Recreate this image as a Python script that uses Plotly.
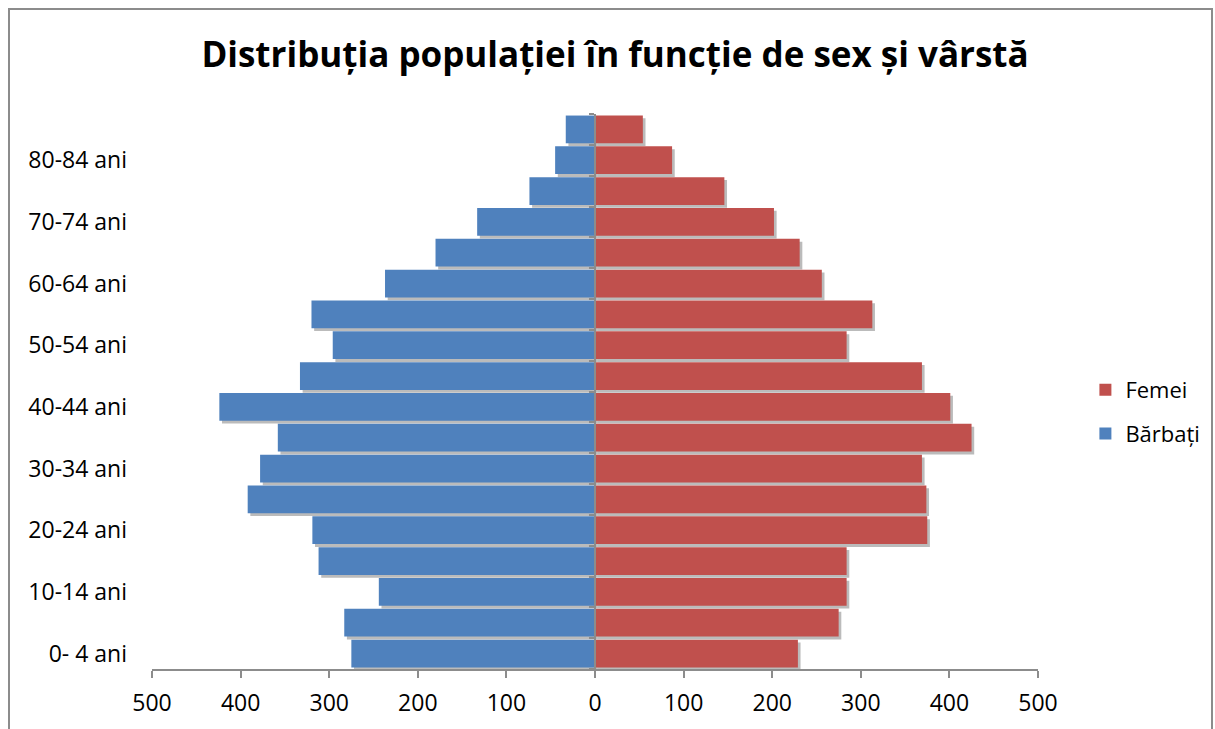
import plotly.graph_objects as go

# Age groups, youngest first (bottom of the pyramid)
age_groups = ["0- 4 ani", "5- 9 ani", "10-14 ani", "15-19 ani", "20-24 ani", "25-29 ani",
              "30-34 ani", "35-39 ani", "40-44 ani", "45-49 ani", "50-54 ani", "55-59 ani",
              "60-64 ani", "65-69 ani", "70-74 ani", "75-79 ani", "80-84 ani", "85+ ani"]
barbati = [275, 283, 244, 312, 319, 392, 378, 358, 424, 333, 296, 320, 237, 180, 133, 74, 45, 33]
femei = [229, 275, 284, 284, 375, 374, 369, 425, 401, 369, 284, 313, 256, 231, 202, 146, 87, 54]
axis_ticks = [-500, -400, -300, -200, -100, 0, 100, 200, 300, 400, 500]
shown_labels = age_groups[::2]

BLUE = "#4F81BD"
RED = "#C0504D"
GREY = "#8C8C8C"
FONT = "Open Sans"

BAR_W = 0.9
SHADOW_DX = 3.0      # shadow shift along the value axis (axis units)
SHADOW_DY = 0.09     # shadow shift along the category axis (category units)

fig = go.Figure()

# drop shadows under the bars
for vals in ([-v for v in barbati], femei):
    fig.add_trace(go.Bar(
        y=age_groups, x=vals, orientation="h", base=SHADOW_DX,
        width=BAR_W, offset=-BAR_W / 2 - SHADOW_DY,
        marker=dict(color="rgba(60,60,60,0.35)", line=dict(width=0)),
        showlegend=False, hoverinfo="skip"))

fig.add_trace(go.Bar(
    y=age_groups, x=femei, orientation="h", name="Femei",
    width=BAR_W, marker=dict(color=RED, line=dict(width=0)),
    legendgroup="f", hovertemplate="%{y}: %{x}<extra>Femei</extra>"))
fig.add_trace(go.Bar(
    y=age_groups, x=[-v for v in barbati], orientation="h", name="Bărbați",
    width=BAR_W, marker=dict(color=BLUE, line=dict(width=0)),
    legendgroup="b", customdata=barbati,
    hovertemplate="%{y}: %{customdata}<extra>Bărbați</extra>"))

# invisible carrier for the central category axis (line + boundary ticks)
fig.add_trace(go.Bar(
    y=age_groups, x=[0] * len(age_groups), orientation="h", yaxis="y2",
    showlegend=False, hoverinfo="skip", marker=dict(color="rgba(0,0,0,0)")))

fig.update_layout(
    width=1215, height=729,
    margin=dict(l=152, r=177, t=114, b=60, autoexpand=False),
    paper_bgcolor="white", plot_bgcolor="white",
    barmode="overlay",
    font=dict(family=FONT, size=22, color="black"),
    title=dict(text="<b>Distribuția populației în funcție de sex și vârstă</b>",
               font=dict(family=FONT, size=35, color="black"),
               xref="paper", x=0.5226, xanchor="center",
               yref="container", y=1 - 55 / 729, yanchor="middle"),
    xaxis=dict(range=[-500, 500], tickvals=axis_ticks,
               ticktext=[str(abs(v)) for v in axis_ticks],
               showgrid=False, zeroline=False, showline=True,
               linecolor=GREY, linewidth=1.5, ticks="outside", ticklen=7,
               tickcolor=GREY, tickwidth=1.5, ticklabelstandoff=6,
               tickfont=dict(size=23), fixedrange=True, automargin=False),
    yaxis=dict(type="category", categoryorder="array", categoryarray=age_groups,
               range=[-0.5, len(age_groups) - 0.5],
               tickvals=shown_labels, ticktext=shown_labels,
               showgrid=False, zeroline=False, showline=False,
               ticks="", ticklabelstandoff=24, tickfont=dict(size=23),
               fixedrange=True, automargin=False),
    yaxis2=dict(type="category", categoryorder="array", categoryarray=age_groups,
                range=[-0.5, len(age_groups) - 0.5],
                overlaying="y", anchor="free", position=0.5, side="left",
                showticklabels=False, showgrid=False, zeroline=False,
                showline=True, linecolor=GREY, linewidth=1.5,
                ticks="outside", tickson="boundaries", ticklen=5,
                tickcolor=GREY, tickwidth=1.5, fixedrange=True, automargin=False),
    legend=dict(x=1.0535, y=0.463, xanchor="left", yanchor="middle",
                font=dict(size=22), tracegroupgap=12, bgcolor="rgba(0,0,0,0)"),
    showlegend=True,
)

# chart border
fig.add_shape(type="rect", xref="paper", yref="paper",
              x0=(9 - 152) / 886, x1=(1212 - 152) / 886,
              y0=(669 - 760) / 555, y1=(669 - 9) / 555,
              line=dict(color=GREY, width=2), fillcolor="rgba(0,0,0,0)", layer="below")

fig.write_html("out.html")
